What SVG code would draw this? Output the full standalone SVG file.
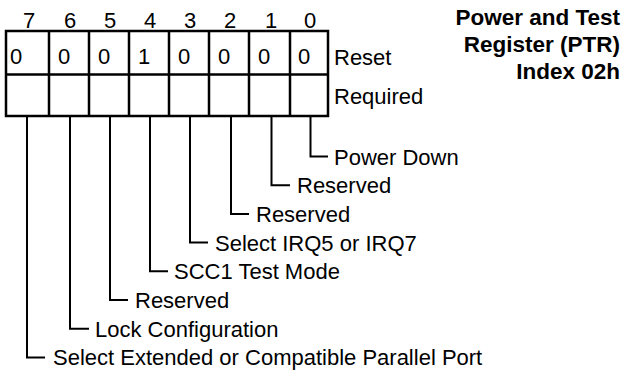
<svg xmlns="http://www.w3.org/2000/svg" width="626" height="372" viewBox="0 0 626 372">
<style>
text{font-family:"Liberation Sans",Arial,sans-serif;font-size:22px;fill:#000}
.t{font-weight:bold;font-size:22.5px;text-anchor:end}
.n{text-anchor:middle}
.b{fill:none;stroke:#000;stroke-width:2.5}
.c{fill:none;stroke:#000;stroke-width:2}
</style>
<rect width="626" height="372" fill="#fff"/>
<g id="title">
<text class="t" x="620" y="25">Power and Test</text>
<text class="t" x="620" y="52">Register (PTR)</text>
<text class="t" x="620" y="79">Index 02h</text>
</g>
<g id="register">
<rect class="b" x="6" y="31" width="322" height="85"/>
<line class="b" x1="6" y1="74.5" x2="328" y2="74.5"/>
<path class="b" d="M49 31V116M89 31V116M129 31V116M169 31V116M209 31V116M249 31V116M290 31V116"/>
<g class="n">
<text x="29" y="28">7</text><text x="70" y="28">6</text><text x="110" y="28">5</text><text x="150" y="28">4</text>
<text x="190" y="28">3</text><text x="230" y="28">2</text><text x="271" y="28">1</text><text x="310" y="28">0</text>
<text x="16" y="64">0</text><text x="64" y="64">0</text><text x="104" y="64">0</text><text x="144" y="64">1</text>
<text x="184" y="64">0</text><text x="224" y="64">0</text><text x="264" y="64">0</text><text x="304" y="64">0</text>
</g>
<text x="334" y="65">Reset</text>
<text x="334" y="104">Required</text>
</g>
<g id="connectors">
<path class="c" d="M310.5 116V156.5H328"/>
<path class="c" d="M271.5 116V185.2H290"/>
<path class="c" d="M231 116V213.9H249"/>
<path class="c" d="M190 116V242.6H208"/>
<path class="c" d="M150 116V271.3H168"/>
<path class="c" d="M110 116V300H128"/>
<path class="c" d="M70 116V328.7H89"/>
<path class="c" d="M27 116V357.4H45"/>
</g>
<g id="labels">
<text x="334" y="164.5">Power Down</text>
<text x="297" y="193">Reserved</text>
<text x="256" y="222">Reserved</text>
<text x="215" y="250.5">Select IRQ5 or IRQ7</text>
<text x="174" y="279">SCC1 Test Mode</text>
<text x="135" y="308">Reserved</text>
<text x="95" y="336.5">Lock Configuration</text>
<text x="53" y="365">Select Extended or Compatible Parallel Port</text>
</g>
</svg>
